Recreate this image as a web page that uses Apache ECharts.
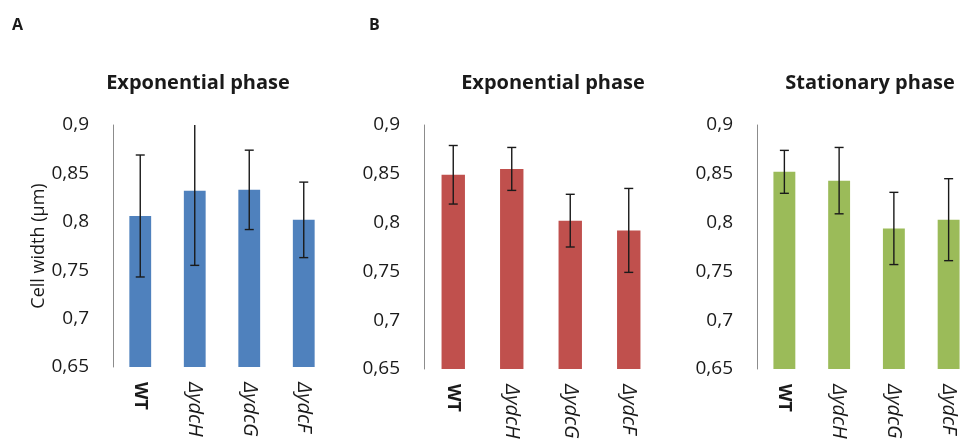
<!DOCTYPE html>
<html>
<head>
<meta charset="utf-8">
<script src="https://cdn.jsdelivr.net/npm/echarts@6/dist/echarts.min.js"></script>
<style>
  html, body { margin: 0; padding: 0; background: #fff; }
  #chart { width: 976px; height: 444px; }
</style>
</head>
<body>
<div id="chart"></div>
<script>
// Strains shown on every panel
const strains = ['WT', 'ΔydcH', 'ΔydcG', 'ΔydcF'];

// Mean cell width (µm) and standard deviation per strain
const expA = [0.806, 0.832, 0.833, 0.802];
const expAErr = [0.063, 0.077, 0.041, 0.039];

const expB = [0.849, 0.855, 0.802, 0.792];
const expBErr = [0.030, 0.022, 0.027, 0.043];

const statB = [0.852, 0.843, 0.794, 0.803];
const statBErr = [0.022, 0.034, 0.037, 0.042];

// Y axis tick range
const yMin = 0.65, yMax = 0.9, yStep = 0.05;

const panelTitles = ['Exponential phase', 'Exponential phase', 'Stationary phase'];
const panelLetters = ['A', 'B'];

const FONT = '"Open Sans"';
const INK = '#1a1a1a';
const chart = echarts.init(document.getElementById('chart'), null, { renderer: 'canvas' });

const panels = [
  { means: expA, errs: expAErr, color: '#4F81BD', grid: { left: 113, top: 125, width: 218, height: 242 }, yName: 'Cell width (µm)', titleX: 198 },
  { means: expB, errs: expBErr, color: '#C0504D', grid: { left: 424, top: 125, width: 234, height: 244 }, yName: '', titleX: 553 },
  { means: statB, errs: statBErr, color: '#9BBB59', grid: { left: 757, top: 125, width: 234, height: 244 }, yName: '', titleX: 870 }
];

function fmtTick(v) {
  return String(parseFloat(v.toFixed(2))).replace('.', ',');
}

function errorBarItem(params, api) {
  const x = api.value(0);
  const lo = api.coord([x, api.value(1)]);
  const hi = api.coord([x, api.value(2)]);
  const half = 4.5;
  const style = { stroke: INK, lineWidth: 1.4 };
  return {
    type: 'group',
    children: [
      { type: 'line', shape: { x1: lo[0], y1: lo[1], x2: hi[0], y2: hi[1] }, style },
      { type: 'line', shape: { x1: hi[0] - half, y1: hi[1], x2: hi[0] + half, y2: hi[1] }, style },
      { type: 'line', shape: { x1: lo[0] - half, y1: lo[1], x2: lo[0] + half, y2: lo[1] }, style }
    ]
  };
}

const option = {
  animation: false,
  backgroundColor: '#ffffff',
  textStyle: { fontFamily: FONT },
  grid: panels.map(p => Object.assign({ containLabel: false }, p.grid)),
  xAxis: panels.map((p, i) => ({
    type: 'category',
    gridIndex: i,
    data: strains,
    axisLine: { show: false },
    axisTick: { show: false },
    axisLabel: {
      rotate: -90,
      margin: 15,
      interval: 0,
      fontFamily: FONT,
      fontSize: 19,
      color: INK,
      formatter: v => (v === 'WT' ? '{b|' + v + '}' : '{i|' + v + '}'),
      rich: {
        b: { fontFamily: FONT, fontSize: 18, fontWeight: 'bold', color: INK },
        i: { fontFamily: FONT, fontSize: 20, fontStyle: 'italic', color: INK }
      }
    }
  })),
  yAxis: panels.map((p, i) => ({
    type: 'value',
    gridIndex: i,
    min: yMin,
    max: yMax,
    interval: yStep,
    name: p.yName,
    nameLocation: 'middle',
    nameGap: 62,
    nameRotate: 90,
    nameTextStyle: { fontFamily: FONT, fontSize: 18, color: INK },
    splitLine: { show: false },
    axisTick: { show: false },
    axisLine: { show: true, lineStyle: { color: '#8c8c8c', width: 1 } },
    axisLabel: { margin: 24, fontFamily: FONT, fontSize: 19, color: INK, formatter: fmtTick }
  })),
  series: panels.flatMap((p, i) => [
    {
      type: 'bar',
      xAxisIndex: i,
      yAxisIndex: i,
      data: p.means,
      barWidth: '40%',
      itemStyle: { color: p.color },
      silent: true
    },
    {
      type: 'custom',
      xAxisIndex: i,
      yAxisIndex: i,
      clip: true,
      renderItem: errorBarItem,
      encode: { x: 0, y: [1, 2] },
      data: p.means.map((m, k) => [k, m - p.errs[k], m + p.errs[k]]),
      z: 5,
      silent: true
    }
  ]),
  graphic: [
    ...panels.map((p, i) => ({
      type: 'text',
      x: p.titleX,
      y: 83,
      style: {
        text: panelTitles[i],
        fontFamily: FONT,
        fontSize: 20,
        fontWeight: 'bold',
        fill: INK,
        align: 'center',
        verticalAlign: 'middle'
      }
    })),
    { type: 'text', x: 12, y: 25, style: { text: panelLetters[0], fontFamily: FONT, fontSize: 16, fontWeight: 'bold', fill: INK, align: 'left', verticalAlign: 'middle' } },
    { type: 'text', x: 369, y: 25, style: { text: panelLetters[1], fontFamily: FONT, fontSize: 16, fontWeight: 'bold', fill: INK, align: 'left', verticalAlign: 'middle' } }
  ]
};

chart.setOption(option);
</script>
</body>
</html>
